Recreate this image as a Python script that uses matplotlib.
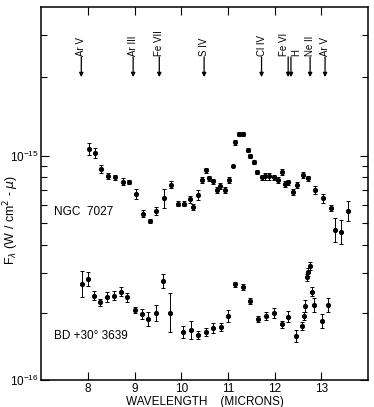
import numpy as np
import matplotlib
matplotlib.use("Agg")
import matplotlib.pyplot as plt
from matplotlib.ticker import FixedLocator, NullFormatter, LogFormatterMathtext

plt.rcParams['font.family'] = ['Liberation Sans', 'DejaVu Sans']

# NGC 7027: wavelength (microns), flux (W/cm2/micron), error (fraction)
ngc_wl = [8.02, 8.16, 8.28, 8.43, 8.58, 8.75, 8.88, 9.03, 9.18, 9.33, 9.47, 9.63,
          9.79, 9.94, 10.07, 10.18, 10.26, 10.36, 10.44, 10.52, 10.60, 10.69, 10.76,
          10.84, 10.94, 11.03, 11.10, 11.16, 11.23, 11.32, 11.42, 11.48, 11.56, 11.63,
          11.72, 11.80, 11.88, 11.98, 12.07, 12.15, 12.22, 12.28, 12.40, 12.47, 12.60,
          12.71, 12.87, 13.04, 13.20, 13.29, 13.43, 13.58]
ngc_flux = [1.07, 1.03, 0.875, 0.81, 0.80, 0.767, 0.765, 0.675, 0.552, 0.51, 0.568, 0.645,
            0.744, 0.612, 0.612, 0.638, 0.591, 0.669, 0.781, 0.859, 0.792, 0.768, 0.705,
            0.73, 0.705, 0.781, 0.896, 1.146, 1.25, 1.25, 1.056, 0.993, 0.94, 0.843,
            0.80, 0.808, 0.808, 0.80, 0.781, 0.843, 0.747, 0.76, 0.688, 0.743, 0.82,
            0.792, 0.705, 0.645, 0.583, 0.468, 0.458, 0.568]
ngc_err = [0.06, 0.05, 0.04, 0.03, 0.03, 0.04, 0.02, 0.05, 0.04, 0.02, 0.04, 0.10,
           0.04, 0.03, 0.03, 0.04, 0.03, 0.05, 0.03, 0.03, 0.03, 0.03, 0.03,
           0.03, 0.03, 0.03, 0.0, 0.03, 0.02, 0.02, 0.02, 0.02, 0.02, 0.02,
           0.03, 0.04, 0.04, 0.03, 0.03, 0.03, 0.03, 0.03, 0.03, 0.03, 0.03,
           0.03, 0.04, 0.05, 0.03, 0.13, 0.13, 0.11]

# BD +30 3639
bd_wl = [7.87, 8.00, 8.14, 8.27, 8.40, 8.55, 8.70, 8.83, 9.00, 9.15, 9.29, 9.45,
         9.60, 9.75, 10.04, 10.20, 10.36, 10.54, 10.69, 10.86, 11.01, 11.16, 11.33,
         11.48, 11.65, 11.82, 11.99, 12.15, 12.29, 12.45, 12.58, 12.62, 12.64, 12.69,
         12.72, 12.76, 12.79, 12.85, 13.01, 13.15]
bd_flux = [0.268, 0.282, 0.238, 0.222, 0.235, 0.238, 0.248, 0.234, 0.205, 0.197, 0.188, 0.199,
           0.277, 0.200, 0.164, 0.167, 0.159, 0.164, 0.171, 0.172, 0.193, 0.267, 0.260,
           0.225, 0.187, 0.193, 0.199, 0.177, 0.192, 0.157, 0.174, 0.193, 0.214, 0.287,
           0.303, 0.323, 0.248, 0.216, 0.184, 0.216]
bd_err = [0.14, 0.075, 0.05, 0.04, 0.05, 0.05, 0.05, 0.05, 0.03, 0.05, 0.075, 0.085,
          0.075, 0.22, 0.06, 0.10, 0.04, 0.04, 0.05, 0.04, 0.06, 0.03, 0.03,
          0.03, 0.03, 0.04, 0.05, 0.04, 0.06, 0.06, 0.04, 0.04, 0.06, 0.04,
          0.04, 0.04, 0.05, 0.075, 0.075, 0.075]

# emission line markers
line_names = ["Ar V", "Ar III", "Fe VII", "S IV", "Cl IV", "Fe VI", "H", "Ne II", "Ar V"]
line_wl = [7.86, 8.97, 9.53, 10.49, 11.72, 12.29, 12.35, 12.76, 13.08]
label_wl = [7.86, 8.97, 9.53, 10.49, 11.72, 12.21, 12.46, 12.76, 13.08]

fig = plt.figure(figsize=(3.74, 4.07), dpi=100)
ax = fig.add_axes([0.110, 0.066, 0.874, 0.917])

for wl, fl, er in [(ngc_wl, ngc_flux, ngc_err), (bd_wl, bd_flux, bd_err)]:
    y = np.array(fl) * 1e-15
    e = np.array(er)
    yerr = [y - y / (1 + e), y * e]
    ax.errorbar(wl, y, yerr=yerr, fmt='o', ms=2.7, color='black', ecolor='black',
                elinewidth=0.7, capsize=1.6, capthick=0.7)

ax.set_yscale('log')
ax.set_xlim(7, 14)
ax.set_ylim(1e-16, 4.6e-15)

ax.xaxis.set_major_locator(FixedLocator([8, 9, 10, 11, 12, 13]))
ax.set_xticklabels(["8", "9", "10", "11", "12", "13"])
ax.yaxis.set_major_locator(FixedLocator([1e-16, 1e-15]))
ax.yaxis.set_major_formatter(LogFormatterMathtext())
minor = [k * 1e-16 for k in range(2, 10)] + [2.25e-15, 3.45e-15]
ax.yaxis.set_minor_locator(FixedLocator(minor))
ax.yaxis.set_minor_formatter(NullFormatter())
ax.xaxis.set_minor_locator(FixedLocator([]))

ax.tick_params(which='both', direction='in', top=True, right=True, labelsize=8.5, width=0.8)
ax.tick_params(which='major', length=6, pad=2)
ax.tick_params(which='minor', length=4)
for s in ax.spines.values():
    s.set_linewidth(1.1)

trans = ax.get_xaxis_transform()
for name, lw_, lx in zip(line_names, line_wl, label_wl):
    ax.annotate('', xy=(lw_, 0.812), xytext=(lw_, 0.866), xycoords=trans, textcoords=trans,
                arrowprops=dict(arrowstyle='-|>', lw=0.9, color='black', mutation_scale=6,
                                shrinkA=0, shrinkB=0))
    ax.text(lx, 0.868, name, rotation=90, ha='center', va='bottom', transform=trans,
            fontsize=7)

ax.text(0.04, 0.45, "NGC  7027", transform=ax.transAxes, fontsize=8.5, va='center')
ax.text(0.04, 0.118, "BD +30° 3639", transform=ax.transAxes, fontsize=8.5, va='center')

ax.set_xlabel("WAVELENGTH    (MICRONS)", fontsize=8.5, labelpad=1)
fig.text(0.03, 0.46, r"F$_\lambda$ (W / cm$^2$ - $\mu$)", rotation=90, ha='center',
         va='center', fontsize=9)

fig.savefig("out.png", dpi=100)
